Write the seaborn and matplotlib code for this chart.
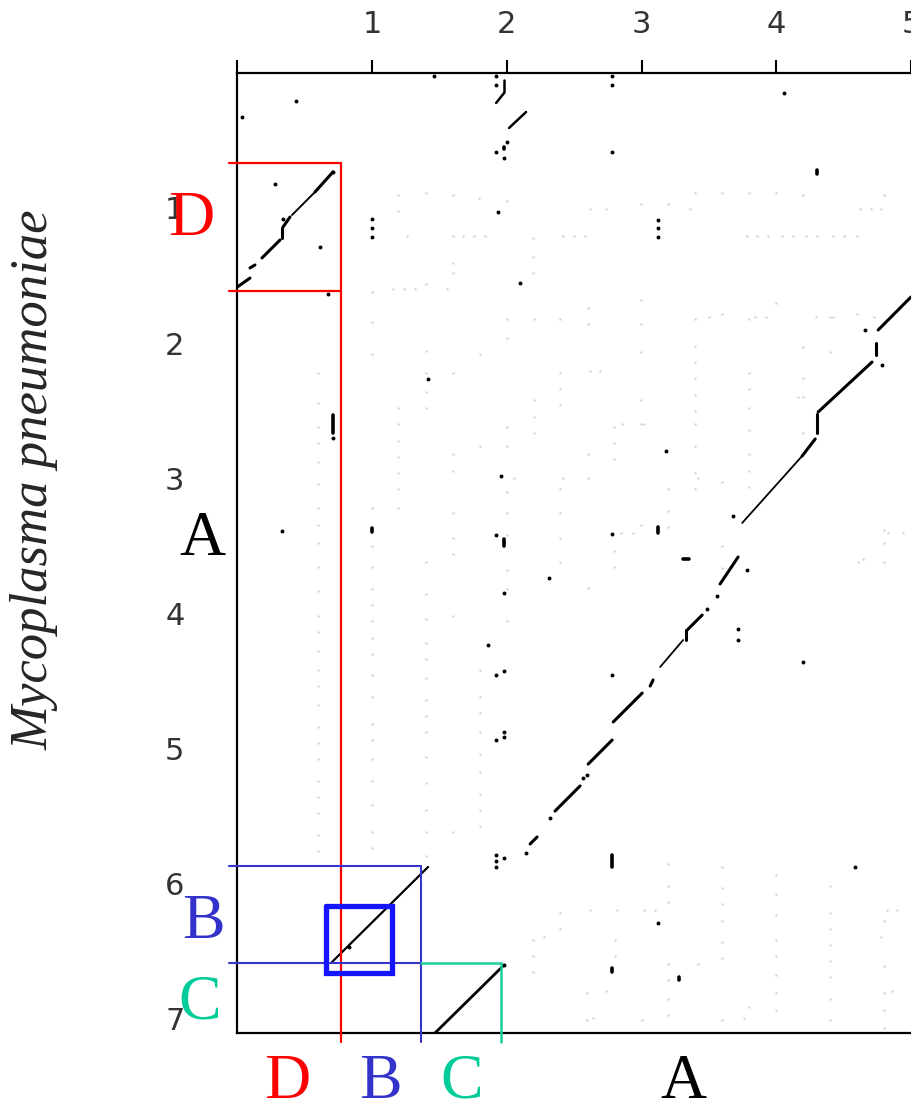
import numpy as np
import pandas as pd
import matplotlib
matplotlib.use("Agg")
import matplotlib.pyplot as plt
import seaborn as sns

# -----------------------------
# DATA (genome positions)
# -----------------------------
x_ticks = [0, 1, 2, 3, 4, 5]
x_tick_labels = ["", "1", "2", "3", "4", "5"]
y_ticks = [0, 1, 2, 3, 4, 5, 6, 7]
y_tick_labels = ["", "1", "2", "3", "4", "5", "6", "7"]

# match runs as (x0, y0, x1, y1)
diag_a = [
    (5.00, 1.659, 4.756, 1.904), (4.741, 2.000, 4.741, 2.089),
    (4.711, 2.141, 4.311, 2.511), (4.304, 2.526, 4.304, 2.667),
    (4.289, 2.711, 4.192, 2.837), (3.717, 3.585, 3.583, 3.785),
    (3.450, 4.015, 3.339, 4.126), (3.332, 4.126, 3.332, 4.200),
    (3.086, 4.496, 3.064, 4.541), (3.005, 4.593, 2.790, 4.807),
    (2.782, 4.941, 2.604, 5.119), (2.544, 5.281, 2.358, 5.467),
    (2.225, 5.659, 2.173, 5.711),
]
diag_a_thin = [
    (4.192, 2.837, 3.747, 3.333), (3.309, 4.200, 3.138, 4.400),
]
diag_d = [
    (0.710, 0.733, 0.577, 0.881), (0.391, 1.067, 0.339, 1.141),
    (0.332, 1.148, 0.332, 1.222), (0.317, 1.237, 0.183, 1.370),
    (0.131, 1.422, 0.094, 1.444), (0.094, 1.519, 0.000, 1.585),
]
diag_d_thin = [(0.577, 0.881, 0.406, 1.052)]
diag_b = [(1.416, 5.881, 0.703, 6.585)]
diag_c = [(1.980, 6.607, 1.467, 7.111)]
top_runs = [
    (1.980, 0.148, 1.921, 0.222), (1.980, 0.052, 1.980, 0.141),
    (2.143, 0.289, 2.017, 0.407),
]
short_marks = [
    (0.710, 2.533, 0.710, 2.667), (1.980, 3.450, 1.980, 3.500),
    (2.782, 5.793, 2.782, 5.881), (3.123, 3.363, 3.123, 3.407),
    (2.782, 6.630, 2.782, 6.659), (3.279, 6.696, 3.279, 6.719),
    (4.304, 0.720, 4.304, 0.745), (1.000, 3.370, 1.000, 3.400),
    (1.980, 0.548, 1.980, 0.563), (3.310, 3.600, 3.350, 3.600),
]

hit_x = [4.660, 4.786, 3.680, 3.561, 3.487, 2.596, 2.567, 2.321, 2.143,
         0.710, 0.280, 0.339, 0.614, 0.829,
         1.921, 1.921, 2.002, 1.921, 1.980, 2.782, 2.782, 2.782, 4.058,
         1.935, 3.123, 3.123, 3.123, 2.099, 1.460, 0.436, 0.035,
         1.000, 1.000, 1.000, 0.673,
         1.416, 0.710, 0.332, 1.958, 1.921, 2.782, 3.183, 3.784, 2.314,
         1.980, 3.717, 3.717, 1.861, 4.199, 1.921, 1.980, 2.782, 1.921,
         1.980, 1.980, 1.921, 1.921, 1.921, 1.980, 4.585, 3.123, 1.980]
hit_y = [1.904, 2.163, 3.281, 3.874, 3.970, 5.200, 5.222, 5.519, 5.778,
         0.733, 0.822, 1.081, 1.289, 6.474,
         0.022, 0.089, 0.511, 0.585, 0.630, 0.022, 0.089, 0.585, 0.148,
         1.030, 1.089, 1.148, 1.215, 1.556, 0.022, 0.207, 0.326,
         1.081, 1.148, 1.215, 1.637,
         2.267, 2.704, 3.393, 2.985, 3.422, 3.415, 2.800, 3.681, 3.741,
         3.852, 4.119, 4.200, 4.237, 4.363, 4.459, 4.430, 4.459, 4.941,
         4.881, 4.919, 5.793, 5.837, 5.881, 5.815, 5.881, 6.296, 6.607]

# weak background matches, left half and lower strip
faint_x = (
    [0.599] * 25 + [1.000] * 20 + [1.193] * 7 + [1.401] * 19 + [1.601] * 8
    + [1.801] * 11 + [2.002] * 10
    + [3.399, 3.598, 3.799, 3.999, 4.199, 4.801]
    + [2.418, 2.500, 2.582, 3.784, 3.858, 3.940, 4.044, 4.125, 4.221,
       4.304, 4.422, 4.503, 4.600]
    + [2.618, 2.737, 3.361, 4.622, 4.704, 4.779, 2.997, 3.198]
    + [1.193, 1.401, 1.601, 1.794, 2.002, 1.193, 1.260, 1.601, 1.675,
       1.757, 1.839, 2.195, 2.195, 1.601, 2.195, 1.601, 1.156, 1.238,
       1.320, 1.557]
    + [3.198] * 7 + [3.598] * 7 + [3.999] * 8 + [4.400] * 8 + [4.801] * 5
    + [2.395, 2.395, 2.195, 2.277, 2.195, 2.195, 2.618, 2.819, 3.020,
       3.101, 2.804, 2.804, 2.596, 2.737, 2.596, 2.641, 3.005, 3.420,
       3.799, 3.762, 4.823, 4.897, 4.779, 4.860]
)
faint_y = (
    [2.222, 2.444, 2.622, 2.741, 2.881, 3.044, 3.222, 3.348, 3.481, 3.659,
     3.837, 4.022, 4.141, 4.281, 4.422, 4.541, 4.681, 4.844, 4.963, 5.081,
     5.244, 5.363, 5.481, 5.644, 5.763]
    + [1.622, 1.844, 2.081, 3.222, 3.504, 3.659, 3.822, 3.941, 4.059, 4.185,
       4.304, 4.459, 4.622, 4.822, 4.941, 5.081, 5.244, 5.422, 5.622, 5.741]
    + [2.481, 2.600, 2.726, 2.844, 2.963, 3.081, 3.222]
    + [1.563, 2.059, 2.222, 2.363, 2.481, 3.622, 3.859, 4.044, 4.222, 4.341,
       4.481, 4.644, 4.763, 4.881, 5.067, 5.259, 5.459, 5.622, 5.800]
    + [2.222, 2.822, 2.948, 3.259, 3.444, 3.563, 4.022, 5.622]
    + [2.081, 2.763, 4.422, 4.622, 4.741, 4.881, 5.044, 5.178, 5.341, 5.459,
       5.578]
    + [1.822, 1.963, 2.622, 2.763, 3.104, 3.259, 3.422, 3.681, 3.822, 4.059]
    + [0.889, 0.889, 0.889, 0.889, 0.904, 0.904]
    + [1.207] * 13
    + [1.007] * 6 + [0.970, 0.970]
    + [0.904, 0.889, 0.904, 0.926, 0.948, 1.022, 1.207, 1.207, 1.207,
       1.207, 1.207, 1.222, 1.363, 1.407, 1.481, 1.481, 1.600, 1.600,
       1.600, 1.600]
    + [5.859, 6.022, 6.141, 6.600, 6.719, 6.859, 6.978]
    + [5.881, 6.037, 6.156, 6.281, 6.437, 6.556, 7.015]
    + [5.941, 6.081, 6.237, 6.422, 6.541, 6.681, 6.815, 6.941]
    + [6.022, 6.222, 6.341, 6.459, 6.578, 6.696, 6.859, 7.015]
    + [6.281, 6.615, 6.815, 6.941, 7.074]
    + [6.222, 6.341, 6.422, 6.400, 6.541, 6.659, 6.200, 6.200, 6.200,
       6.200, 6.422, 6.541, 6.815, 6.800, 7.015, 7.000, 7.015, 6.600,
       6.919, 7.000, 6.200, 6.200, 6.400, 6.800]
)

# weak background matches, upper right
faint2_x = (
    [2.203] * 4 + [2.396] * 8 + [2.604] * 5 + [2.797] * 5 + [2.997] * 5
    + [3.198] * 3 + [3.399] * 10 + [3.598] * 4 + [3.799] * 8
    + [3.999, 4.199, 4.199, 4.199, 4.199, 4.400, 4.400, 4.600]
    + [4.801] * 3
    + [2.618, 2.692, 2.856, 3.019, 4.163, 2.054, 2.418, 3.420, 2.997,
       2.849, 2.938, 4.830, 4.941, 4.608, 4.645, 3.845, 3.925, 4.296,
       4.422, 4.726, 3.502]
)
faint2_y = (
    [1.822, 2.422, 2.548, 2.667]
    + [1.822, 2.222, 2.341, 2.459, 3.081, 3.259, 3.444, 3.622]
    + [1.741, 1.859, 2.822, 3.000, 3.815]
    + [2.622, 2.741, 2.859, 3.541, 3.659]
    + [1.681, 1.859, 2.067, 2.422, 2.600]
    + [3.081, 3.244, 3.363]
    + [1.822, 2.022, 2.141, 2.259, 2.385, 2.504, 2.600, 2.763, 2.963, 3.081]
    + [1.785, 3.030, 3.504, 3.667]
    + [1.822, 2.222, 2.341, 2.481, 2.644, 2.822, 2.948, 3.067]
    + [1.704, 2.030, 2.259, 2.400, 2.667, 1.807, 2.067, 1.785]
    + [3.385, 3.481, 3.622]
    + [2.207, 2.207, 2.600, 2.600, 2.400, 3.000, 3.000, 3.000, 3.348,
       3.407, 3.407, 3.407, 3.407, 3.622, 3.600, 1.807, 1.807, 1.807,
       1.807, 1.807, 1.807]
)

# highlighted regions (data units)
red_x = 0.768
red_y = [0.667, 1.615]
blue_x = 1.364
blue_y = [5.874, 6.593]
teal_x = 1.958
square_x = [0.655, 1.145]
square_y = [6.167, 6.670]
line_start_x = -0.062
line_end_y = 7.178

X_MAX = 5.0
Y_MAX = 7.111

RED = "#ff0000"
BLUE = "#3535cc"
BLUE_BOLD = "#1414ff"
TEAL = "#1ccf9a"


def runs_frame(runs):
    rows = []
    for i, (x0, y0, x1, y1) in enumerate(runs):
        rows.append({"seg": i, "x": x0, "y": y0})
        rows.append({"seg": i, "x": x1, "y": y1})
    return pd.DataFrame(rows)


# -----------------------------
# PLOT
# -----------------------------
sns.set_style("white")
plt.rcParams["font.family"] = ["DejaVu Sans"]

fig = plt.figure(figsize=(9.11, 11.02), dpi=100)
ax = fig.add_axes([0.2605, 0.06261, 0.7395, 0.87115])

sns.scatterplot(x=faint_x + faint2_x, y=faint_y + faint2_y, color="#d4d4d4",
                s=3, linewidth=0, ax=ax, zorder=1)
sns.scatterplot(x=hit_x, y=hit_y, color="black", s=8, linewidth=0,
                ax=ax, zorder=3)

for runs, lw in [(diag_a, 2.2), (diag_a_thin, 1.3), (diag_d, 2.2),
                 (diag_d_thin, 1.4), (diag_b, 1.6), (diag_c, 2.0),
                 (top_runs, 1.8), (short_marks, 2.6)]:
    sns.lineplot(data=runs_frame(runs), x="x", y="y", units="seg",
                 estimator=None, sort=False, color="black", linewidth=lw,
                 ax=ax, zorder=3)

ax.set_xlim(0, X_MAX)
ax.set_ylim(Y_MAX, 0)
ax.set_xlabel("")
ax.set_ylabel("")

# boxes marking the regions
kw = dict(clip_on=False, zorder=5)
for yy in red_y:
    ax.plot([line_start_x, red_x], [yy, yy], color=RED, lw=1.6, **kw)
ax.plot([red_x, red_x], [red_y[0], line_end_y], color=RED, lw=1.6, **kw)
for yy in blue_y:
    ax.plot([line_start_x, blue_x], [yy, yy], color=BLUE, lw=1.5, **kw)
ax.plot([blue_x, blue_x], [blue_y[0], line_end_y], color=BLUE, lw=1.5, **kw)
ax.plot([blue_x, teal_x], [blue_y[1], blue_y[1]], color=TEAL, lw=1.8, **kw)
ax.plot([teal_x, teal_x], [blue_y[1], line_end_y], color=TEAL, lw=1.8, **kw)
ax.plot([square_x[0], square_x[1], square_x[1], square_x[0], square_x[0]],
        [square_y[0], square_y[0], square_y[1], square_y[1], square_y[0]],
        color=BLUE_BOLD, lw=3.8, solid_joinstyle="miter", **kw)

# axes styling
ax.xaxis.tick_top()
ax.set_xticks(x_ticks)
ax.set_xticklabels(x_tick_labels)
ax.set_yticks(y_ticks)
ax.set_yticklabels(y_tick_labels)
ax.tick_params(axis="x", direction="out", length=9.5, width=1.5, pad=15,
               labelsize=22, labelcolor="#333333", color="black")
ax.tick_params(axis="y", direction="out", length=11, width=1.5, pad=27,
               labelsize=22, labelcolor="#333333", color="black")
for side in ["left", "top", "bottom"]:
    ax.spines[side].set_color("black")
    ax.spines[side].set_linewidth(1.6)
ax.spines["right"].set_visible(False)
ax.grid(False)

# region letters
serif = ["Liberation Serif", "DejaVu Serif"]
letters = [
    ("D", 0.2097, 0.7868, RED), ("A", 0.2217, 0.4964, "black"),
    ("B", 0.2228, 0.1488, "#3333cc"), ("C", 0.2195, 0.0762, "#00cc99"),
    ("D", 0.3150, 0.0040, RED), ("B", 0.4171, 0.0040, "#3333cc"),
    ("C", 0.5071, 0.0040, "#00cc99"), ("A", 0.7497, 0.0040, "black"),
]
for txt, fx, fy, col in letters:
    fig.text(fx, fy, txt, color=col, fontsize=46, family=serif,
             ha="center", va="baseline", zorder=10)

fig.text(0.0384, 0.5644, "Mycoplasma pneumoniae", rotation=90,
         fontsize=38, family=serif, style="italic", ha="center", va="center")

fig.savefig("out.png", dpi=100)
